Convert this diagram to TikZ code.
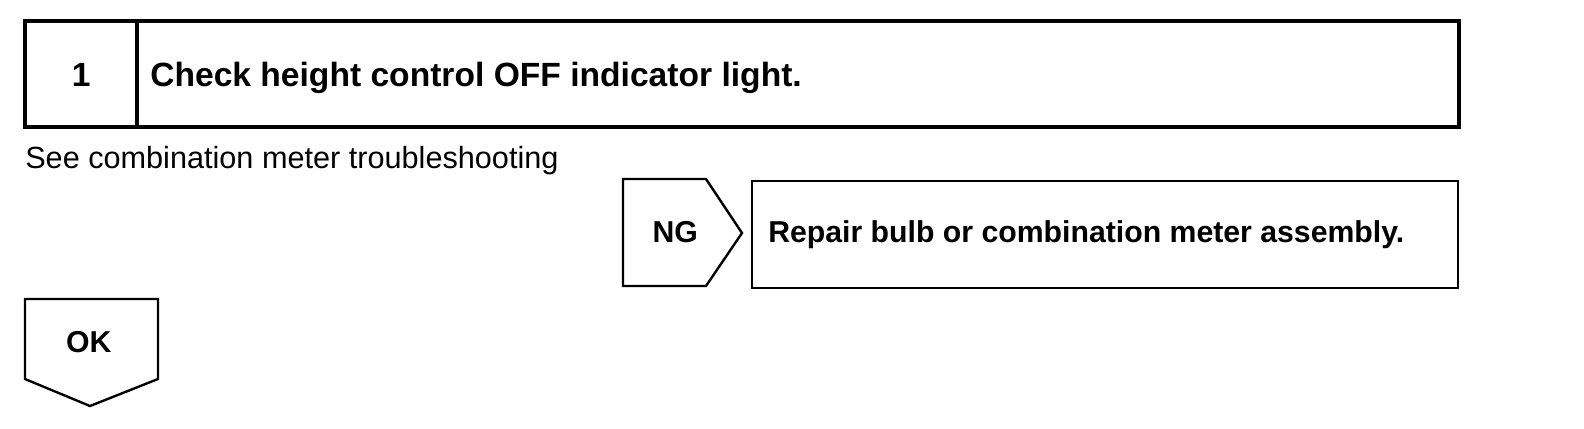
\documentclass[tikz,border=0pt]{standalone}
\usepackage{fontspec}
\setmainfont{Liberation Sans}
\usetikzlibrary{positioning}

\begin{document}
\begin{tikzpicture}[
    boxline/.style={draw=black, line width=2.2pt, line join=miter},
    tagline/.style={draw=black, line width=1.7pt, line join=miter},
    headtext/.style={font=\fontsize{23.9}{28}\selectfont\bfseries, inner sep=0pt},
    boldtext/.style={font=\fontsize{21.5}{26}\selectfont\bfseries, inner sep=0pt},
    plaintext/.style={font=\fontsize{21.8}{26}\selectfont, inner sep=0pt}
]
    \useasboundingbox (0,0) rectangle (39.6,-10.7);

    % step 1
    \draw[boxline] (0.625,-0.525) rectangle (36.475,-3.175);
    \draw[boxline] (3.425,-0.525) -- (3.425,-3.175);
    \node[headtext, anchor=base] (num) at (2.03,-2.15) {1};
    \node[headtext, anchor=base west] (check) at (3.75,-2.15) {Check height control OFF indicator light.};
    \node[plaintext, anchor=base west] (see) at (0.625,-4.2) {See combination meter troubleshooting};

    % NG branch
    \draw[tagline] (15.575,-4.475) -- (17.65,-4.475) -- (18.55,-5.825) -- (17.65,-7.15) -- (15.575,-7.15) -- cycle;
    \node[boldtext, anchor=base] (ng) at (16.88,-6.05) {NG};
    \draw[tagline] (18.8,-4.525) rectangle (36.45,-7.2);
    \node[boldtext, anchor=base west] (repair) at (19.2,-6.05) {Repair bulb or combination meter assembly.};

    % OK branch
    \draw[tagline] (0.625,-7.475) -- (3.95,-7.475) -- (3.95,-9.475) -- (2.25,-10.15) -- (0.625,-9.475) -- cycle;
    \node[boldtext, anchor=base] (ok) at (2.22,-8.8) {OK};
\end{tikzpicture}
\end{document}
